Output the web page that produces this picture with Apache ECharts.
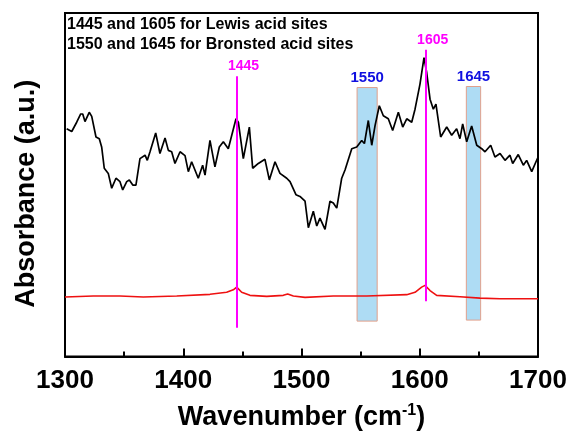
<!DOCTYPE html>
<html>
<head>
<meta charset="utf-8">
<script src="https://cdn.jsdelivr.net/npm/echarts@6/dist/echarts.min.js"></script>
<style>
html,body{margin:0;padding:0;background:#fff;}
#c{width:571px;height:436px;}
</style>
</head>
<body>
<div id="c"></div>
<script>
// Black spectrum (wavenumber, absorbance a.u.)
var blackX = [1301.4,1305.7,1309.9,1313.3,1315,1316.9,1320.5,1322.6,1326.2,1329,1331,1333.2,1336.6,1339.5,1343.1,1346.5,1348.8,1352.2,1354.4,1357.3,1360,1363.4,1367.7,1369.6,1371.9,1376.7,1380.3,1384.6,1387.4,1390.2,1393,1397.3,1401.5,1404.3,1407.1,1412.7,1416.4,1418.4,1422.6,1426.8,1430.5,1433.9,1438.1,1444.6,1446.6,1450.8,1455.9,1458.7,1463.5,1469.1,1472.8,1477.6,1481.8,1487.5,1490.3,1495.3,1498.7,1503,1505.8,1510,1512.9,1515.6,1519.9,1524.1,1526.9,1529.8,1534,1536.8,1542.5,1546.7,1550.9,1553.2,1556.5,1559.4,1562.2,1565.8,1569.2,1573.4,1577.1,1581.9,1585.6,1589,1593.2,1596,1600.2,1603.6,1605.9,1608.7,1611.5,1613.7,1617.7,1622.8,1627,1631.2,1634,1636.3,1639.7,1643.9,1648.2,1652.4,1655.2,1660,1663.6,1667.9,1672.1,1676.3,1678.6,1683.3,1687.6,1690.4,1694.7,1698.3,1700];
var blackY = [66.3,65.5,68.2,70.6,70.6,68.4,71.1,69.9,63.9,63.4,61.0,54.8,53.3,49.0,51.9,50.9,48.5,50.9,51.4,49.9,49.9,57.6,58.6,57.1,59.6,65.1,59.1,63.6,60.0,59.6,56.2,59.6,58.5,53.8,56.7,51.9,55.7,52.8,62.9,55.2,61.0,62.5,60.5,69.2,68.2,57.6,66.8,54.8,56.2,57.4,51.4,56.7,53.3,51.9,50.9,47.1,46.6,45.2,37.5,42.3,38.0,40.3,37.0,45.2,44.7,43.2,51.9,54.3,60.5,61.0,62.9,62.0,68.7,61.5,67.2,73.0,70.1,69.2,65.8,71.1,66.8,69.2,68.2,72.0,79.3,87.0,82.6,74.9,72.0,73.5,63.9,66.8,64.4,66.3,63.4,67.7,62.5,67.1,61.5,60.5,59.6,61.5,58.1,59.1,57.1,58.6,56.2,58.8,55.7,57.1,53.8,56.7,58.0];
// Red spectrum
var redX = [1300,1323.9,1346.5,1366.2,1394.5,1422.6,1436.7,1442.3,1445.2,1449.4,1456.4,1470.6,1484.6,1488.3,1493.1,1503,1526.9,1555.1,1589,1596,1601.6,1604.4,1608.7,1614.3,1634,1650.9,1667.9,1700];
var redY = [17.3,17.6,17.6,17.3,17.6,18.1,18.7,19.4,20.2,18.7,17.8,17.5,17.8,18.2,17.6,17.2,17.6,17.6,18.0,18.7,20.2,20.7,19.2,17.8,17.4,17.0,16.8,16.8];
// Lewis markers (vertical lines): position, bottom, top
var lewisPos = [1445, 1605];
var lewisBottom = [8.4, 16.1];
var lewisTop = [81.6, 89.3];
// Bronsted bands: start, end, bottom, top, label
var bandStart = [1547, 1639.4];
var bandEnd = [1564, 1651.5];
var bandBottom = [10.3, 10.6];
var bandTop = [78.3, 78.6];
var bandLabel = ['1550', '1645'];
var xTicks = [1300, 1400, 1500, 1600, 1700];
var noteLines = ['1445 and 1605 for Lewis acid sites', '1550 and 1645 for Bronsted acid sites'];

var FONT = 'Arial, "Liberation Sans", sans-serif';
function zip(a, b) { return a.map(function (v, i) { return [v, b[i]]; }); }

var chart = echarts.init(document.getElementById('c'), null, {renderer: 'canvas'});
var option = {
  animation: false,
  backgroundColor: '#fff',
  title: {
    text: noteLines.join('\n'),
    left: 67, top: 15, padding: 0,
    textStyle: {fontFamily: FONT, fontSize: 16, fontWeight: 'bold', color: '#000', lineHeight: 20}
  },
  grid: {left: 65, right: 33, top: 13, bottom: 76, show: true, borderColor: '#000', borderWidth: 2, backgroundColor: 'transparent'},
  xAxis: {
    type: 'value', min: xTicks[0], max: xTicks[xTicks.length - 1], interval: 100,
    axisLine: {show: true, onZero: false, lineStyle: {color: '#000', width: 2}},
    axisTick: {show: true, inside: true, length: 8, lineStyle: {color: '#000', width: 2}},
    minorTick: {show: true, splitNumber: 2, length: 5, lineStyle: {color: '#000', width: 2}},
    splitLine: {show: false},
    axisLabel: {fontFamily: FONT, fontSize: 26, fontWeight: 'bold', color: '#000', margin: 11,
      formatter: function (v) { return String(v); }},
    name: 'Wavenumber (cm{sup|-1})',
    nameLocation: 'middle', nameGap: 46,
    nameTextStyle: {
      fontFamily: FONT, fontSize: 27, fontWeight: 'bold', color: '#000',
      rich: {sup: {fontFamily: FONT, fontSize: 16, fontWeight: 'bold', color: '#000', verticalAlign: 'top', padding: [0, 0, 14, 0]}}
    }
  },
  yAxis: {
    type: 'value', min: 0, max: 100,
    axisLine: {show: true, lineStyle: {color: '#000', width: 2}},
    axisTick: {show: false}, axisLabel: {show: false}, splitLine: {show: false},
    name: 'Absorbance (a.u.)', nameLocation: 'middle', nameGap: 25,
    nameTextStyle: {fontFamily: FONT, fontSize: 27, fontWeight: 'bold', color: '#000', padding: [0, 18, 0, 0]}
  },
  series: [
    {
      type: 'line', data: [], z: 1, silent: true,
      markArea: {
        silent: true,
        itemStyle: {color: '#aedcf4', borderColor: '#e0a08c', borderWidth: 1},
        label: {show: true, position: 'top', distance: 2, fontFamily: FONT, fontSize: 15, fontWeight: 'bold', color: '#1010e0'},
        data: bandStart.map(function (s, i) {
          return [{name: bandLabel[i], coord: [s, bandBottom[i]]}, {coord: [bandEnd[i], bandTop[i]]}];
        })
      }
    },
    {
      type: 'line', data: zip(blackX, blackY), z: 3, showSymbol: false, symbol: 'none',
      lineStyle: {color: '#000', width: 1.7}
    },
    {
      type: 'line', data: zip(redX, redY), z: 3, showSymbol: false, symbol: 'none',
      lineStyle: {color: '#ee1111', width: 1.6}
    },
    {
      type: 'line', data: [], z: 5, silent: true,
      markLine: {
        silent: true, symbol: ['none', 'none'],
        lineStyle: {color: '#ff00ff', width: 2, type: 'solid'},
        label: {show: true, position: 'end', distance: 3, offset: [7, 0], fontFamily: FONT, fontSize: 14, fontWeight: 'bold', color: '#ff00ff', formatter: '{b}'},
        data: lewisPos.map(function (p, i) {
          return [{name: String(p), coord: [p, lewisBottom[i]]}, {coord: [p, lewisTop[i]]}];
        })
      }
    }
  ]
};
chart.setOption(option);
</script>
</body>
</html>
